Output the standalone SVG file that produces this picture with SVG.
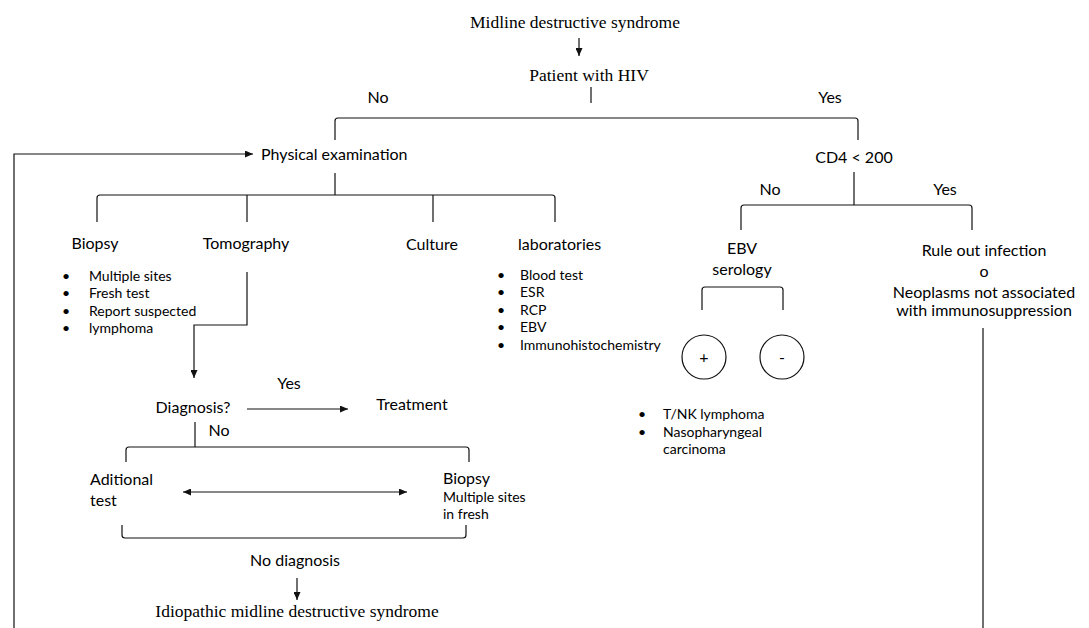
<svg xmlns="http://www.w3.org/2000/svg" width="1089" height="628" viewBox="0 0 1089 628">
<style>
.s{font-family:Lato,"Liberation Sans",sans-serif;font-size:16px;fill:#000}
.b{font-family:Lato,"Liberation Sans",sans-serif;font-size:14px;fill:#000}
.r{font-family:"Liberation Serif","Times New Roman",serif;font-size:17.5px;fill:#000}
.c{text-anchor:middle}
.ln{fill:none;stroke:#111;stroke-width:1.2}
.arr{marker-end:url(#ah)}
</style>
<defs>
<marker id="ah" markerUnits="userSpaceOnUse" markerWidth="8" markerHeight="7" refX="8" refY="3.5" orient="auto-start-reverse">
<path d="M0,0 L8,3.5 L0,7 z" fill="#111"/>
</marker>
</defs>
<rect width="1089" height="628" fill="#fff"/>
<g id="connectors">
<path class="ln arr" d="M579,38 V56"/>
<path class="ln" d="M591,87 V103"/>
<path class="ln" d="M335,140 V121 Q335,118 338,118 H855 Q858,118 858,121 V140"/>
<path class="ln arr" d="M14,628 V154 H253"/>
<path class="ln" d="M335,173 V195"/>
<path class="ln" d="M97,222 V198 Q97,195 100,195 H552 Q555,195 555,198 V222"/>
<path class="ln" d="M247,195 V222 M433,195 V222"/>
<path class="ln" d="M854,172 V205"/>
<path class="ln" d="M741,230 V208 Q741,205 744,205 H969 Q972,205 972,208 V230"/>
<path class="ln" d="M702,310 V290 Q702,287 705,287 H780 Q783,287 783,290 V310"/>
<path class="ln" d="M983,328 V628"/>
<path class="ln arr" d="M247,272 V325 H194 V378"/>
<path class="ln arr" d="M247,409 H348"/>
<path class="ln" d="M195,422 V447"/>
<path class="ln" d="M126,462 V450 Q126,447 129,447 H466 Q469,447 469,450 V462"/>
<path class="ln arr" style="marker-start:url(#ah)" d="M183,492 H407"/>
<path class="ln" d="M122,525 V535 Q122,538 125,538 H463 Q466,538 466,535 V525"/>
<path class="ln arr" d="M297,578 V600"/>
</g>
<g id="n-title"><text class="r c" x="575" y="28">Midline destructive syndrome</text></g>
<g id="n-hiv"><text class="r c" x="589" y="81">Patient with HIV</text></g>
<g id="l-no1"><text class="s c" x="378" y="103">No</text></g>
<g id="l-yes1"><text class="s c" x="830" y="103">Yes</text></g>
<g id="n-phys"><text class="s" x="261" y="160">Physical examination</text></g>
<g id="n-cd4"><text class="s c" x="854" y="163">CD4 &lt; 200</text></g>
<g id="l-no2"><text class="s c" x="770" y="195">No</text></g>
<g id="l-yes2"><text class="s c" x="945" y="195">Yes</text></g>
<g id="n-biopsy">
<text class="s c" x="95" y="249">Biopsy</text>
<text class="b" x="62" y="281">•</text><text class="b" x="89" y="281">Multiple sites</text>
<text class="b" x="62" y="298">•</text><text class="b" x="89" y="298">Fresh test</text>
<text class="b" x="62" y="316">•</text><text class="b" x="89" y="316">Report suspected</text>
<text class="b" x="62" y="333">•</text><text class="b" x="89" y="333">lymphoma</text>
</g>
<g id="n-tomo"><text class="s c" x="246" y="249">Tomography</text></g>
<g id="n-culture"><text class="s c" x="432" y="250">Culture</text></g>
<g id="n-labs">
<text class="s" x="518" y="250">laboratories</text>
<text class="b" x="497" y="280">•</text><text class="b" x="520" y="280">Blood test</text>
<text class="b" x="497" y="297">•</text><text class="b" x="520" y="297">ESR</text>
<text class="b" x="497" y="315">•</text><text class="b" x="520" y="315">RCP</text>
<text class="b" x="497" y="332">•</text><text class="b" x="520" y="332">EBV</text>
<text class="b" x="497" y="350">•</text><text class="b" x="520" y="350">Immunohistochemistry</text>
</g>
<g id="n-ebv">
<text class="s c" x="742" y="254">EBV</text>
<text class="s c" x="742" y="275">serology</text>
</g>
<g id="n-rule">
<text class="s c" x="984" y="256">Rule out infection</text>
<text class="s c" x="984" y="277">o</text>
<text class="s c" x="984" y="298">Neoplasms not associated</text>
<text class="s c" x="984" y="316">with immunosuppression</text>
</g>
<g id="n-plus"><circle class="ln" cx="704" cy="357" r="22"/><text class="s c" x="704" y="363">+</text></g>
<g id="n-minus"><circle class="ln" cx="782" cy="357" r="22"/><text class="s c" x="782" y="363">-</text></g>
<g id="n-ebvpos">
<text class="b" x="638" y="419">•</text><text class="b" x="663" y="419">T/NK lymphoma</text>
<text class="b" x="638" y="437">•</text><text class="b" x="663" y="437">Nasopharyngeal</text>
<text class="b" x="663" y="454">carcinoma</text>
</g>
<g id="l-yes3"><text class="s c" x="289" y="389">Yes</text></g>
<g id="n-diag"><text class="s c" x="193" y="413">Diagnosis?</text></g>
<g id="n-treat"><text class="s c" x="412" y="410">Treatment</text></g>
<g id="l-no3"><text class="s c" x="219" y="436">No</text></g>
<g id="n-add">
<text class="s" x="90" y="485">Aditional</text>
<text class="s" x="90" y="506">test</text>
</g>
<g id="n-biopsy2">
<text class="s" x="443" y="484">Biopsy</text>
<text class="b" x="443" y="502">Multiple sites</text>
<text class="b" x="443" y="519">in fresh</text>
</g>
<g id="n-nodiag"><text class="s c" x="295" y="566">No diagnosis</text></g>
<g id="n-idio"><text class="r c" x="297" y="617">Idiopathic midline destructive syndrome</text></g>
</svg>
